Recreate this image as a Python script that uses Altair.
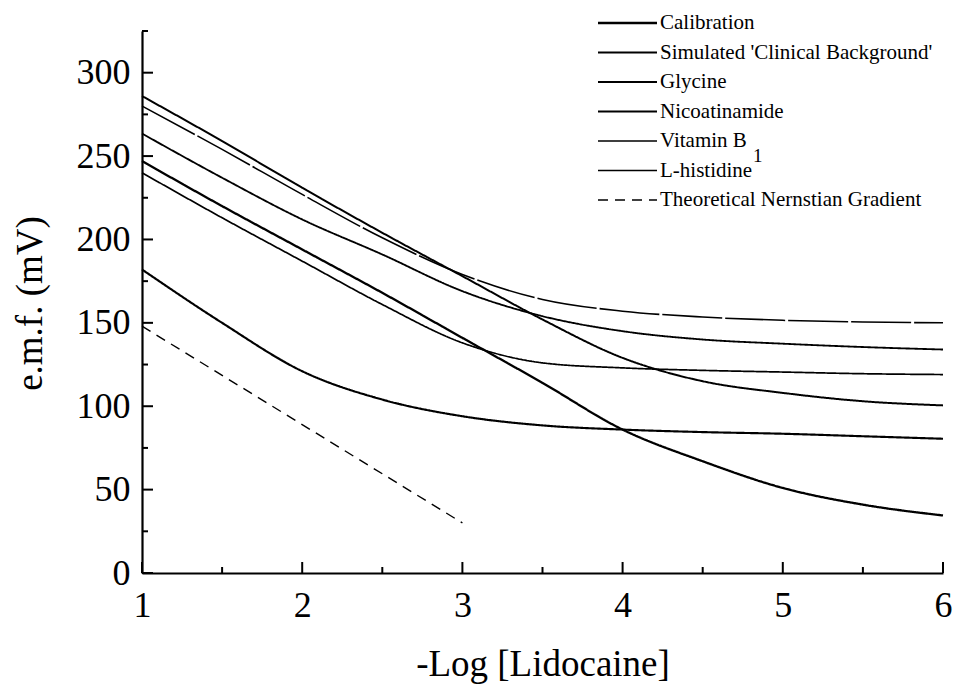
import altair as alt
import pandas as pd

# ---- data ----
x_vals = [1, 1.5, 2, 2.5, 3, 3.5, 4, 4.5, 5, 5.5, 6]
calibration = [247, 220, 194, 168, 141, 114, 86, 67, 51, 41, 34.5]
clinical = [182, 150, 121, 104, 94, 88.5, 86, 84.5, 83.5, 82, 80.5]
glycine = [286, 259, 231, 204, 178, 152, 129, 115, 108, 103, 100.5]
nicotinamide = [263.5, 237, 212, 191, 169, 154, 145, 140, 137.5, 135.5, 134]
vitamin_b1 = [240, 213, 187, 161, 138, 126, 123, 121.5, 120.5, 119.5, 119]
histidine = [280, 254, 227, 201, 179, 164, 157, 153.5, 151.5, 150.5, 150]
nernst_x = [1, 3]
nernst_y = [148, 30]

names = ["Calibration", "Simulated 'Clinical Background'", "Glycine",
         "Nicoatinamide", "Vitamin B", "L-histidine",
         "Theoretical Nernstian Gradient"]

y_major = [0, 50, 100, 150, 200, 250, 300]
y_minor = [25, 75, 125, 175, 225, 275, 325]
x_major = [1, 2, 3, 4, 5, 6]
x_minor = [1.5, 2.5, 3.5, 4.5, 5.5]

# ---- tables ----
rows = []
for name, ys in zip(names[:6], [calibration, clinical, glycine, nicotinamide, vitamin_b1, histidine]):
    for xv, yv in zip(x_vals, ys):
        rows.append({"x": xv, "y": yv, "series": name})
for xv, yv in zip(nernst_x, nernst_y):
    rows.append({"x": xv, "y": yv, "series": names[6]})
curves = pd.DataFrame(rows)

legend_df = pd.DataFrame({"series": names, "row": list(range(len(names)))})
sub_df = pd.DataFrame({"row": [4], "t": ["1"]})

FONT = "Liberation Serif"
W, H = 801, 542

xscale = alt.Scale(domain=[1, 6], nice=False, zero=False)
yscale = alt.Scale(domain=[0, 325], nice=False, zero=True)
lscale = alt.Scale(domain=[0, 6], range=[-8, 169])

width_scale = alt.Scale(domain=names, range=[2.3, 1.4, 2.3, 1.5, 1.4, 1.5, 1.5])
dash_scale = alt.Scale(domain=names, range=[[1, 0], [1, 0], [1, 0], [1, 0], [1, 0], [60, 3], [10, 7]])

x_axis = alt.Axis(
    values=x_major, format="d", ticks=False, grid=False,
    domainColor="black", domainWidth=2.2, labelFlush=False,
    labelFont=FONT, labelFontSize=36, labelColor="black", labelPadding=15,
    title="-Log [Lidocaine]", titleFont=FONT, titleFontSize=37, titleFontWeight="normal",
    titleColor="black", titlePadding=23)

lines = alt.Chart(curves).mark_line(color="black", interpolate="monotone").encode(
    x=alt.X("x:Q", scale=xscale, axis=x_axis),
    y=alt.Y("y:Q", scale=yscale, axis=alt.Axis(
        values=y_major, ticks=False, tickSize=0, grid=False,
        domainColor="black", domainWidth=2.2, labelFlush=False, labelOverlap=False,
        labelFont=FONT, labelFontSize=36, labelColor="black", labelPadding=12,
        labelBaseline="middle",
        title="e.m.f. (mV)", titleFont=FONT, titleFontSize=37, titleFontWeight="normal",
        titleColor="black", titleAngle=270, titleX=-112, titleY=272,
        titleAlign="center", titleBaseline="middle")),
    detail="series:N",
    strokeWidth=alt.StrokeWidth("series:N", scale=width_scale, legend=None),
    strokeDash=alt.StrokeDash("series:N", scale=dash_scale, legend=None),
)

ymaj = alt.Chart(pd.DataFrame({"v": y_major})).mark_rule(color="black", strokeWidth=2).encode(
    y=alt.Y("v:Q", scale=yscale, axis=None), x=alt.value(0), x2=alt.value(11))
ymin = alt.Chart(pd.DataFrame({"v": y_minor})).mark_rule(color="black", strokeWidth=2).encode(
    y=alt.Y("v:Q", scale=yscale, axis=None), x=alt.value(0), x2=alt.value(6))
xmaj = alt.Chart(pd.DataFrame({"v": x_major})).mark_rule(color="black", strokeWidth=2).encode(
    x=alt.X("v:Q", scale=xscale, axis=x_axis), y=alt.value(H), y2=alt.value(H - 11))
xmin = alt.Chart(pd.DataFrame({"v": x_minor})).mark_rule(color="black", strokeWidth=2).encode(
    x=alt.X("v:Q", scale=xscale, axis=x_axis), y=alt.value(H), y2=alt.value(H - 6))

leg_lines = alt.Chart(legend_df).mark_rule(color="black").encode(
    y=alt.Y("row:Q", scale=lscale, axis=None),
    x=alt.value(456), x2=alt.value(515),
    strokeWidth=alt.StrokeWidth("series:N", scale=alt.Scale(domain=names, range=[1.4] * 7), legend=None),
    strokeDash=alt.StrokeDash("series:N", scale=alt.Scale(domain=names, range=[[1, 0], [1, 0], [1, 0], [1, 0], [1, 0], [1, 0], [7, 5]]), legend=None),
)
leg_text = alt.Chart(legend_df).mark_text(
    align="left", baseline="middle", font=FONT, fontSize=21, color="black").encode(
    y=alt.Y("row:Q", scale=lscale, axis=None), x=alt.value(518), text="series:N")
leg_sub = alt.Chart(sub_df).mark_text(
    align="left", baseline="middle", font=FONT, fontSize=19, color="black", dy=15).encode(
    y=alt.Y("row:Q", scale=lscale, axis=None), x=alt.value(611), text="t:N")

chart = alt.layer(
    lines, ymaj, ymin, xmaj, xmin, leg_lines, leg_text, leg_sub
).resolve_scale(y="independent").properties(
    width=W, height=H,
    autosize=alt.AutoSizeParams(type="none"),
    padding={"left": 142, "top": 31, "right": 13, "bottom": 115},
    background="white",
).configure_view(stroke=None)

chart.save("out.html", embed_options={"renderer": "svg", "actions": False})
